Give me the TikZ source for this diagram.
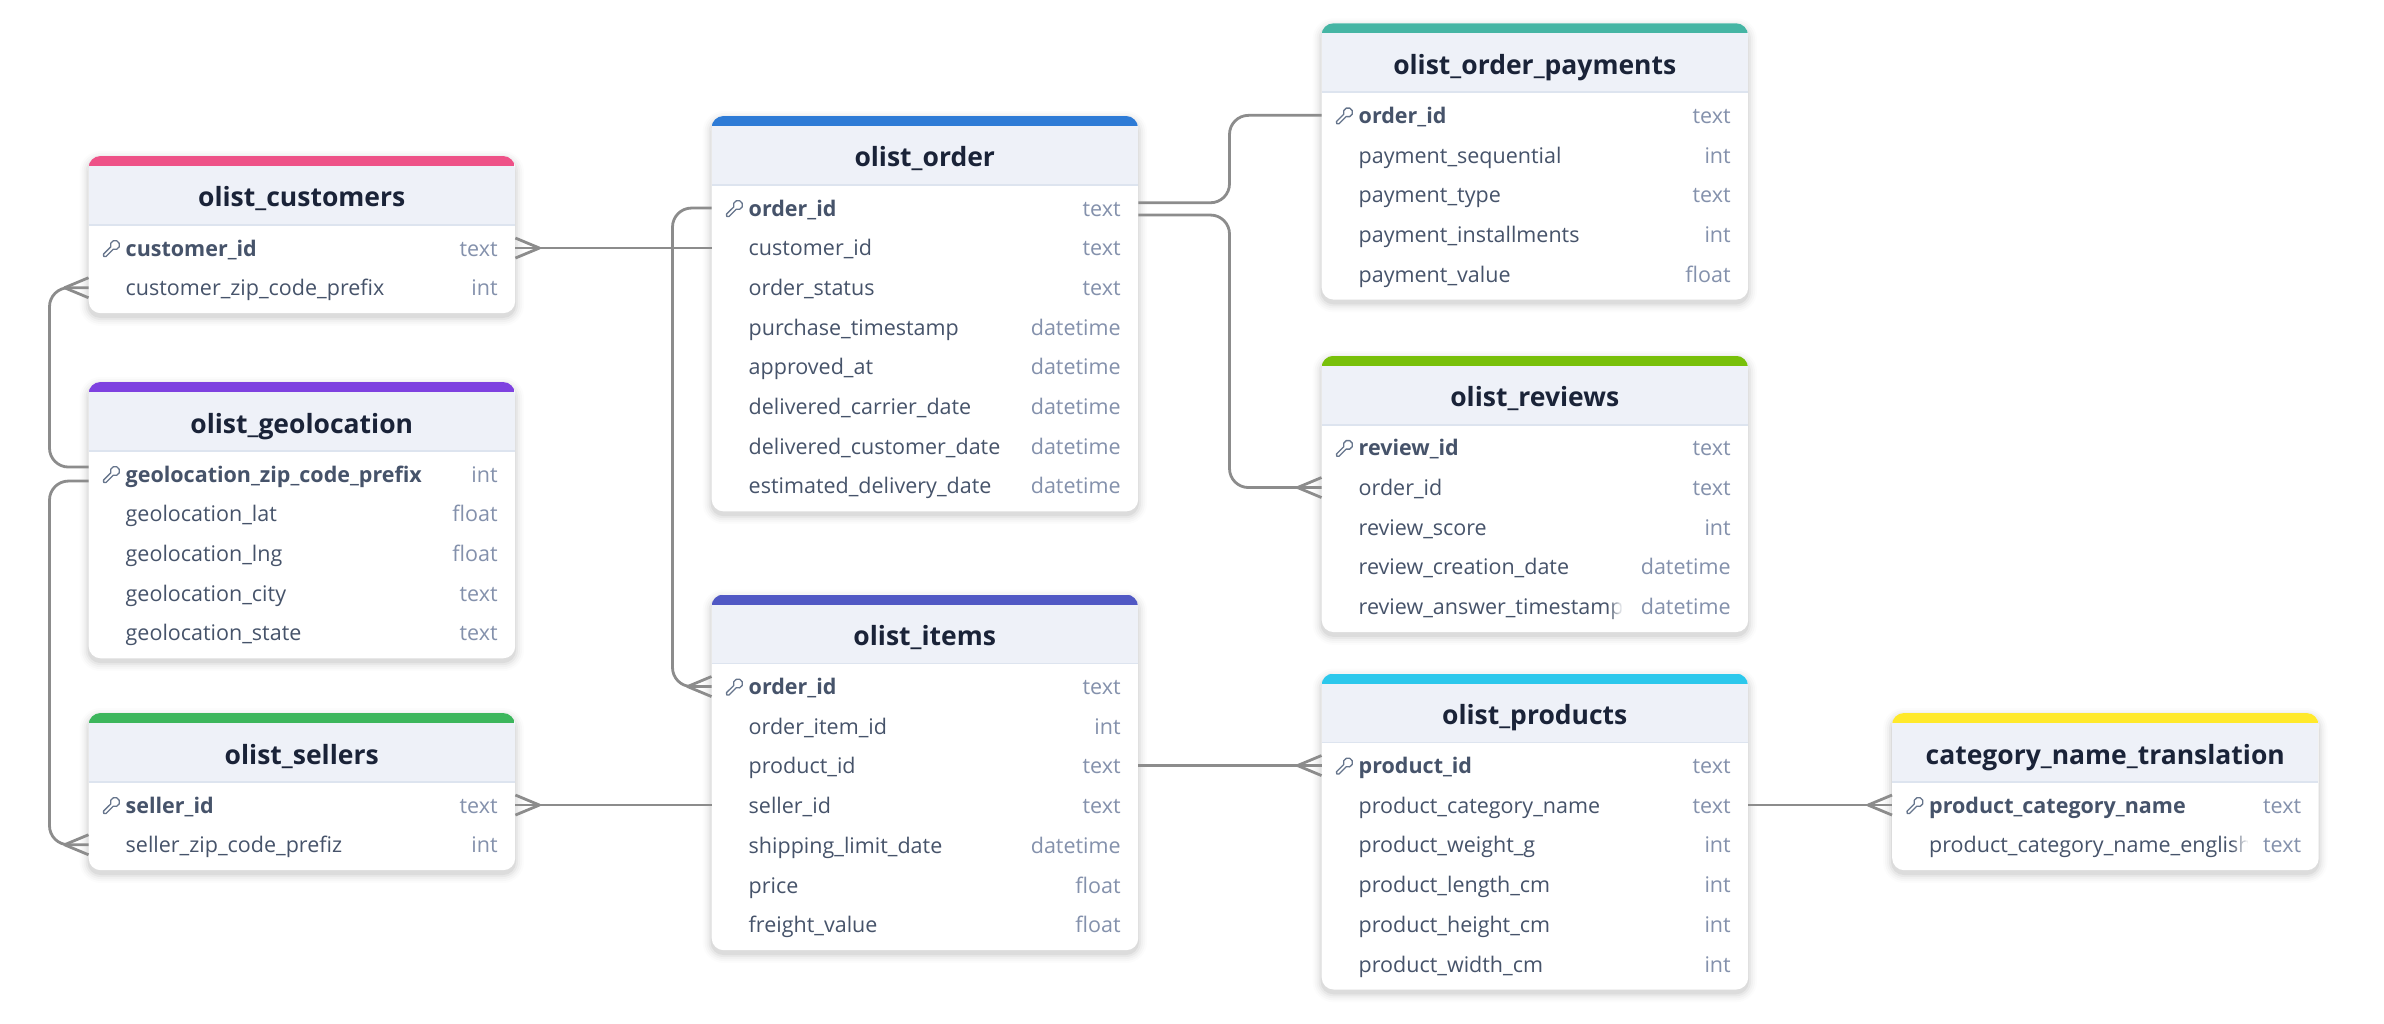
\documentclass[tikz,border=0pt]{standalone}
\usepackage{fontspec}
\setmainfont{Open Sans}
\usetikzlibrary{calc,arrows.meta}
\catcode`\_=12
\definecolor{titlecol}{HTML}{1A2338}
\definecolor{fieldcol}{HTML}{46536A}
\definecolor{typecol}{HTML}{8491AC}
\definecolor{headcol}{HTML}{EEF1F8}
\definecolor{rulecol}{HTML}{DDE4EF}
\definecolor{linkcol}{HTML}{8C8C8C}
\definecolor{keycol}{HTML}{66758C}
\definecolor{barpink}{HTML}{EE5288}
\definecolor{barpurple}{HTML}{7E41E0}
\definecolor{bargreen}{HTML}{3CB65C}
\definecolor{barblue}{HTML}{2E7BD6}
\definecolor{barindigo}{HTML}{5058C4}
\definecolor{barteal}{HTML}{45B5A4}
\definecolor{barlime}{HTML}{78C00A}
\definecolor{barcyan}{HTML}{2CC8EC}
\definecolor{baryellow}{HTML}{FFE92B}
\pgfdeclarearrow{
  name=Crow,
  setup code={\pgfarrowssettipend{0pt}\pgfarrowssetlineend{0pt}\pgfarrowssetbackend{-24pt}%
    \pgfarrowshullpoint{0pt}{10pt}\pgfarrowshullpoint{0pt}{-10pt}\pgfarrowshullpoint{-24pt}{0pt}},
  drawing code={\pgfsetdash{}{0pt}\pgfsetroundjoin
    \pgfpathmoveto{\pgfpoint{0pt}{10pt}}\pgfpathlineto{\pgfpoint{-24pt}{0pt}}\pgfpathlineto{\pgfpoint{0pt}{-10pt}}\pgfusepathqstroke},
  defaults={}
}
\tikzset{
  x=1pt,y=-1pt,
  card/.style={rectangle,rounded corners=12pt,fill=white,inner sep=0pt,anchor=north west,minimum width=426.5pt},
  rowbox/.style={rectangle,inner sep=0pt,anchor=north west,minimum width=426.5pt,minimum height=39.7pt},
  titletxt/.style={inner sep=0pt,anchor=base,text=titlecol,font=\fontsize{26.5}{30}\selectfont\bfseries},
  fieldtxt/.style={inner sep=0pt,anchor=base west,text=fieldcol,font=\fontsize{21.5}{26}\selectfont},
  keytxt/.style={fieldtxt,font=\fontsize{21.5}{26}\selectfont\bfseries},
  typetxt/.style={inner sep=0pt,anchor=base east,text=typecol,font=\fontsize{21.5}{26}\selectfont},
  rel/.style={draw=linkcol,line width=2.8pt,rounded corners=19pt},
  keyicon/.pic={
    \draw[keycol,line width=1.3pt,line join=round,fill=white]
      (4.3pt,1.7pt) arc[start angle=21.6,end angle=338.4,radius=4.6pt]
      -- (14.5pt,-1.7pt) -- (16pt,0pt) -- (14.5pt,1.7pt) -- cycle;
  }
}
\newcommand{\softshadow}[4]{% L T W H
  \foreach \s/\o in {9/.012,7/.018,5/.025,3/.035,1/.05}{
    \fill[black,fill opacity=\o,rounded corners=12pt+\s pt]
      (#1-\s,#2+4-\s) rectangle (#1+#3+\s,#2+#4+4+\s);
  }
}
\newcommand{\dbtable}[7]{% id L T nrows colour title rows
  \pgfmathsetmacro{\Ht}{77.6+#4*39.7}
  \softshadow{#2}{#3}{426.5}{\Ht}
  \node[card,minimum height=\Ht pt] (#1) at (#2,#3) {};
  \begin{scope}
    \clip[rounded corners=12pt] (#2,#3) rectangle (#2+426.5,#3+\Ht);
    \fill[headcol] (#2,#3+10) rectangle (#2+426.5,#3+69);
    \fill[#5] (#2,#3) rectangle (#2+426.5,#3+10);
    \draw[rulecol,line width=1.6pt] (#2,#3+69) -- (#2+426.5,#3+69);
  \end{scope}
  \node[titletxt] (#1-title) at (#2+213.25,#3+51) {#6};
  \foreach \f/\t [count=\i] in {#7}{
    \node[rowbox] (#1-r\i) at (#2,#3+72+\i*39.7-39.7) {};
    \ifnum\i=1
      \node[keytxt] (#1-r\i-f) at ($(#1-r\i.west)+(37,8)$) {\f};
      \pic (#1-key) at ($(#1-r\i.west)+(26.5,-3)$) [rotate=225] {keyicon};
    \else
      \node[fieldtxt] (#1-r\i-f) at ($(#1-r\i.west)+(37,8)$) {\f};
    \fi
    \node[typetxt] (#1-r\i-t) at ($(#1-r\i.east)+(-17.5,8)$) {\t};
  }
}
\newcommand{\fadeover}[3]{% row node, x start (from left of row), width
  \foreach \k in {1,...,10}{
    \fill[white,fill opacity=\k/10] ($(#1.west)+(#2+\k*#3/10-#3/10,-18)$) rectangle ($(#1.west)+(#2+\k*#3/10,18)$);
  }
  \fill[white] ($(#1.west)+(#2+#3,-18)$) rectangle ($(#1.west)+(#2+#3+8,18)$);
}
\begin{document}
\begin{tikzpicture}
\useasboundingbox[fill=white] (0,0) rectangle (2384,1024);
\dbtable{customers}{88.5}{156}{2}{barpink}{olist_customers}{customer_id/text,customer_zip_code_prefix/int}
\dbtable{geolocation}{88.5}{382}{5}{barpurple}{olist_geolocation}{geolocation_zip_code_prefix/int,geolocation_lat/float,geolocation_lng/float,geolocation_city/text,geolocation_state/text}
\dbtable{sellers}{88.5}{713}{2}{bargreen}{olist_sellers}{seller_id/text,seller_zip_code_prefiz/int}
\dbtable{order}{711.5}{116}{8}{barblue}{olist_order}{order_id/text,customer_id/text,order_status/text,purchase_timestamp/datetime,approved_at/datetime,delivered_carrier_date/datetime,delivered_customer_date/datetime,estimated_delivery_date/datetime}
\dbtable{items}{711.5}{594.5}{7}{barindigo}{olist_items}{order_id/text,order_item_id/int,product_id/text,seller_id/text,shipping_limit_date/datetime,price/float,freight_value/float}
\dbtable{payments}{1321.5}{23.3}{5}{barteal}{olist_order_payments}{order_id/text,payment_sequential/int,payment_type/text,payment_installments/int,payment_value/float}
\dbtable{reviews}{1321.5}{355.8}{5}{barlime}{olist_reviews}{review_id/text,order_id/text,review_score/int,review_creation_date/datetime,review_answer_timestamp/datetime}
\dbtable{products}{1321.5}{673.5}{6}{barcyan}{olist_products}{product_id/text,product_category_name/text,product_weight_g/int,product_length_cm/int,product_height_cm/int,product_width_cm/int}
\dbtable{category}{1892}{713}{2}{baryellow}{category_name_translation}{product_category_name/text,product_category_name_english/text}
\fadeover{reviews-r5}{288}{14}
\fadeover{category-r2}{340}{18}

\coordinate (busLeft) at (49.5,0);
\coordinate (busMid) at (672.5,0);
\coordinate (busRight) at (1229.5,0);
\coordinate (geoUp) at ([yshift=7pt]geolocation-r1.west);
\coordinate (geoDown) at ([yshift=-7pt]geolocation-r1.west);
\coordinate (ordUp) at ([yshift=5.3pt]order-r1.east);
\coordinate (ordDown) at ([yshift=-7pt]order-r1.east);

\draw[rel,Crow-] (customers-r1.east) -- (customers-r1.east -| order-r2.west);
\draw[rel,Crow-] (customers-r2.west) -- (customers-r2.west -| busLeft) -- (geoUp -| busLeft) -- (geoUp);
\draw[rel,Crow-] (sellers-r2.west) -- (sellers-r2.west -| busLeft) -- (geoDown -| busLeft) -- (geoDown);
\draw[rel,Crow-] (sellers-r1.east) -- (sellers-r1.east -| items-r4.west);
\draw[rel,Crow-] (items-r1.west) -- (items-r1.west -| busMid) -- (order-r1.west -| busMid) -- (order-r1.west);
\draw[rel] (ordUp) -- (ordUp -| busRight) -- (payments-r1.west -| busRight) -- (payments-r1.west);
\draw[rel,-Crow] (ordDown) -- (ordDown -| busRight) -- (reviews-r2.west -| busRight) -- (reviews-r2.west);
\draw[rel,-Crow] (items-r3.east |- products-r1.west) -- (products-r1.west);
\draw[rel,-Crow] (products-r2.east |- category-r1.west) -- (category-r1.west);
\end{tikzpicture}
\end{document}
